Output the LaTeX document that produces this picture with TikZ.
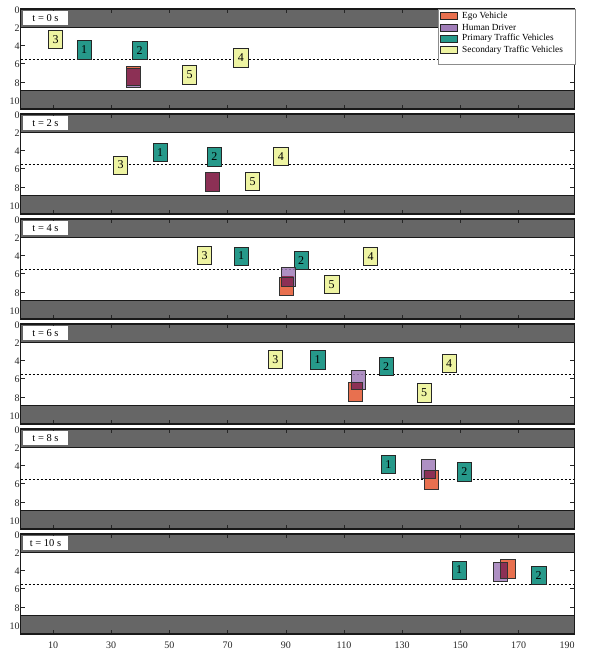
\documentclass[tikz,border=0pt]{standalone}
\usepackage{fontspec}
\setmainfont{Liberation Serif}
\definecolor{egoC}{HTML}{E8704F}
\definecolor{humC}{HTML}{A07DB8}
\definecolor{priC}{HTML}{26998A}
\definecolor{secC}{HTML}{EEF4A2}
\definecolor{overC}{HTML}{8C3055}
\definecolor{bandC}{HTML}{666666}
\tikzset{
  band/.style={fill=bandC},
  laneline/.style={line width=1.1pt, draw=black!90},
  frame/.style={line width=1.1pt, draw=black!90},
  centreline/.style={dash pattern=on 2.2pt off 1.8pt, line width=0.55pt},
  tickm/.style={line width=0.6pt, draw=black!85},
  ylab/.style={anchor=east, inner sep=0pt, font=\fontsize{10}{10}\selectfont, text=black!85},
  xlab/.style={anchor=center, inner sep=0pt, font=\fontsize{10}{10}\selectfont, text=black!85},
  tlab/.style={fill=white, inner sep=0pt, minimum width=45pt, minimum height=14pt, font=\fontsize{10.5}{12}\selectfont},
  veh/.style={draw=black!85, line width=0.7pt, minimum width=14.3pt, minimum height=18.3pt, inner sep=0pt, outer sep=0pt, font=\fontsize{12}{12}\selectfont},
  pri/.style={veh, fill=priC},
  sec/.style={veh, fill=secC},
  egob/.style={fill=egoC, minimum width=14.3pt, minimum height=18.8pt, inner sep=0pt, outer sep=0pt},
  humb/.style={fill=humC, fill opacity=0.85, minimum width=14.3pt, minimum height=18.8pt, inner sep=0pt, outer sep=0pt},
  vline/.style={draw=black!80, line width=0.7pt},
  legbox/.style={draw=black!45, line width=0.6pt, fill=white},
  swatch/.style={draw=black!85, line width=0.5pt, minimum width=16.5pt, minimum height=7pt, inner sep=0pt, outer sep=0pt},
  legtxt/.style={anchor=west, inner sep=0pt, font=\fontsize{9.3}{9.5}\selectfont},
}
\newcommand\egohum[5]{%
  \node[egob] (ego#1) at (#2,#3) {};
  \node[humb] (hum#1) at (#4,#5) {};
  \begin{scope}
    \clip (ego#1.south west) rectangle (ego#1.north east);
    \fill[overC] (hum#1.south west) rectangle (hum#1.north east);
  \end{scope}
  \draw[vline] (ego#1.south west) rectangle (ego#1.north east);
  \draw[vline] (hum#1.south west) rectangle (hum#1.north east);
}
\begin{document}
\begin{tikzpicture}[x=1pt,y=-1pt]
\useasboundingbox (0,0) rectangle (590,659);
% panels
\foreach \k/\t in {0/0,1/2,2/4,3/6,4/8,5/10}{
  \pgfmathsetmacro\T{9+105*\k}
  \fill[band] (20.7,\T) rectangle (574.3,\T+18.2);
  \fill[band] (20.7,\T+81.9) rectangle (574.3,\T+100);
  \draw[laneline] (20.7,\T+18.2) -- (574.3,\T+18.2);
  \draw[laneline] (20.7,\T+81.9) -- (574.3,\T+81.9);
  \draw[centreline] (20.7,\T+50.05) -- (574.3,\T+50.05);
  \foreach \v in {4,6,8}{
    \draw[tickm] (20.7,\T+9.1*\v) -- ++(4,0);
    \draw[tickm] (574.3,\T+9.1*\v) -- ++(-4,0);
  }
  \foreach \i in {0,...,8}{
    \draw[tickm] (53+58.2*\i,\T) -- ++(0,4);
    \draw[tickm] (53+58.2*\i,\T+100) -- ++(0,-4);
  }
  \draw[frame] (20.7,\T) rectangle (574.3,\T+100);
  \foreach \v in {0,2,4,6,8,10}{
    \node[ylab] (yl\k-\v) at (19.8,\T+1+9.1*\v) {\v};
  }
  \node[tlab] (t\k) at (45.5,\T+9) {t = \t\ s};
}
% x labels
\foreach \i/\lab in {0/10,1/30,2/50,3/70,4/90,5/110,6/130,7/150,8/170}{
  \node[xlab] (xl\i) at (53+58.2*\i,645) {\lab};
}
\node[xlab] (xl9) at (567,645) {190};

% ---- t = 0 s
\node[sec] (a3) at (55.5,39.5) {3};
\node[pri] (a1) at (84.2,49.8) {1};
\node[pri] (a2) at (139.7,50.2) {2};
\node[sec] (a4) at (240.8,57.7) {4};
\node[sec] (a5) at (189.5,74.8) {5};
\egohum{a}{133.5}{75.7}{133.5}{78.2}
% ---- t = 2 s
\node[sec] (b3) at (120.5,165) {3};
\node[pri] (b1) at (160.2,152.5) {1};
\node[pri] (b2) at (214.3,156.7) {2};
\node[sec] (b4) at (280.8,156.5) {4};
\node[sec] (b5) at (252.5,181.2) {5};
\egohum{b}{212.3}{181.5}{212.3}{181.5}
% ---- t = 4 s
\node[sec] (c3) at (204.5,255.2) {3};
\node[pri] (c1) at (241.1,256) {1};
\node[pri] (c2) at (301,260.5) {2};
\node[sec] (c4) at (370.6,256.5) {4};
\node[sec] (c5) at (331.7,284.5) {5};
\egohum{c}{286.4}{286.3}{288.6}{277.2}
% ---- t = 6 s
\node[sec] (d3) at (275.3,359.3) {3};
\node[pri] (d1) at (317.7,359.8) {1};
\node[pri] (d2) at (386.2,366.3) {2};
\node[sec] (d4) at (449,363.2) {4};
\node[sec] (d5) at (424.2,392.7) {5};
\egohum{d}{355.3}{391.8}{358.2}{379.5}
% ---- t = 8 s
\node[pri] (e1) at (388.3,464.2) {1};
\node[pri] (e2) at (464.3,471.7) {2};
\egohum{e}{431}{480}{428.5}{469.2}
% ---- t = 10 s
\node[pri] (f1) at (459.2,570) {1};
\node[pri] (f2) at (538.7,575.5) {2};
\egohum{f}{507.7}{568.8}{500.4}{572}

% legend
\draw[legbox] (438.3,9.3) rectangle (575,64.3);
\node[swatch, fill=egoC] (sw1) at (448.7,16) {};
\node[swatch, fill=humC] (sw2) at (448.7,27.3) {};
\node[swatch, fill=priC] (sw3) at (448.7,38.7) {};
\node[swatch, fill=secC] (sw4) at (448.7,50) {};
\node[legtxt] (lt1) at (462,16) {Ego Vehicle};
\node[legtxt] (lt2) at (462,27.3) {Human Driver};
\node[legtxt] (lt3) at (462,38.7) {Primary Traffic Vehicles};
\node[legtxt] (lt4) at (462,50) {Secondary Traffic Vehicles};
\end{tikzpicture}
\end{document}
